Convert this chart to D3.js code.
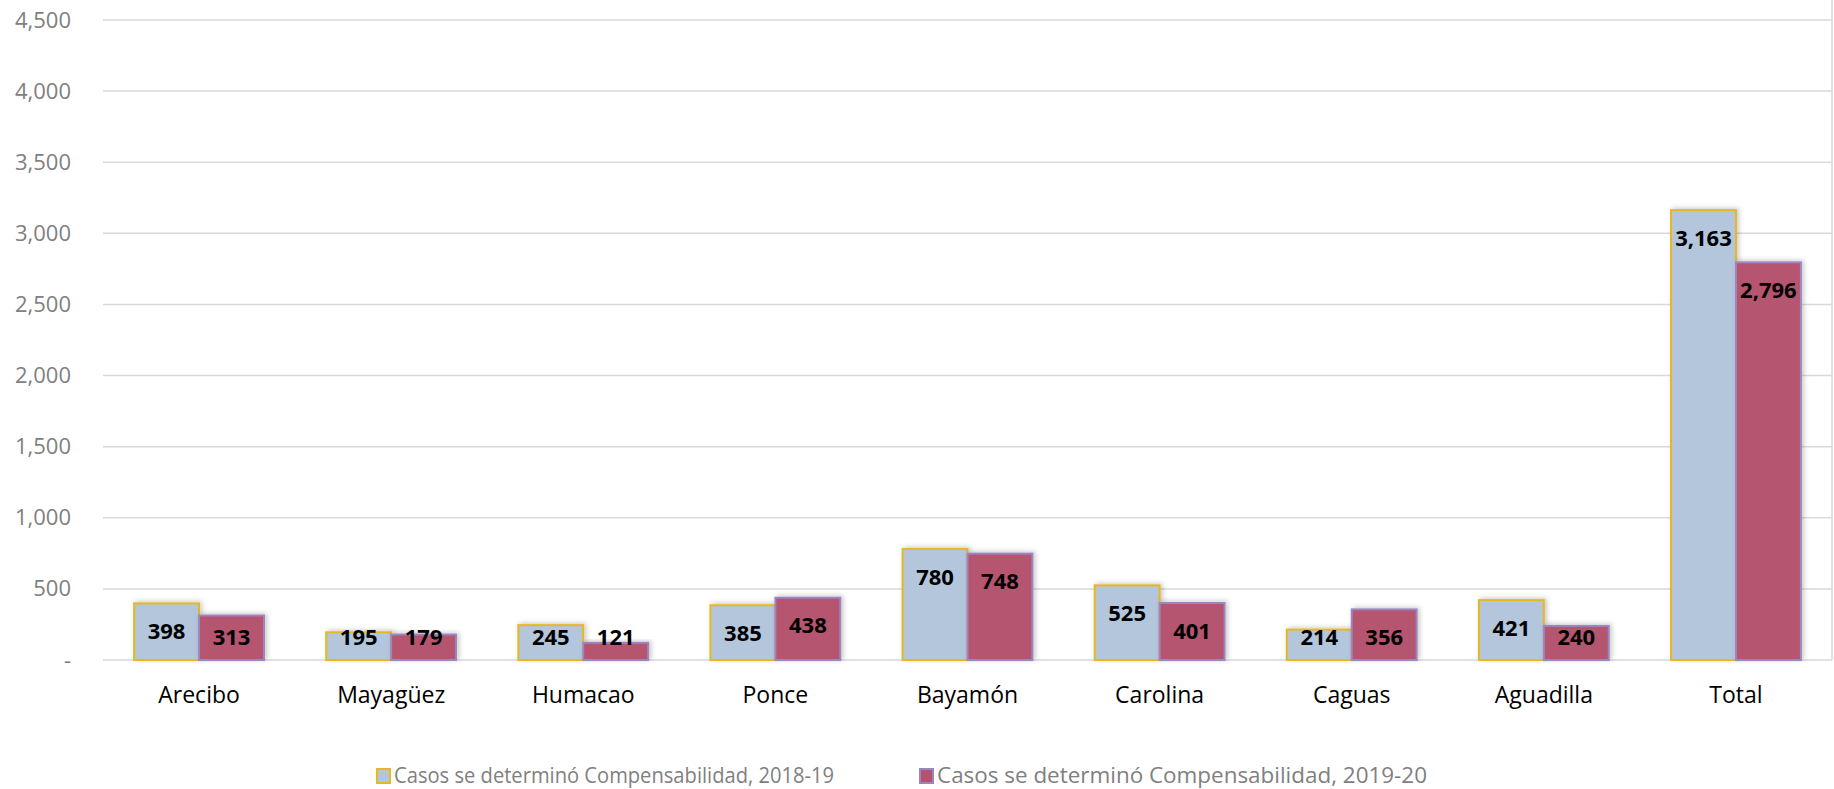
<!DOCTYPE html>
<html>
<head>
    <meta charset="UTF-8">
    <title>Casos se determinó Compensabilidad</title>
    <style>
        body { margin: 0; background: #fff; }
        text { font-family: "Open Sans", "Noto Sans", sans-serif; }
    </style>
</head>
<body>
    <script src="https://d3js.org/d3.v7.min.js"></script>
    <script>
        // datos
        var categories = ["Arecibo", "Mayagüez", "Humacao", "Ponce", "Bayamón", "Carolina", "Caguas", "Aguadilla", "Total"];
        var values1819 = [398, 195, 245, 385, 780, 525, 214, 421, 3163];
        var values1920 = [313, 179, 121, 438, 748, 401, 356, 240, 2796];
        var seriesNames = ["Casos se determinó Compensabilidad, 2018-19", "Casos se determinó Compensabilidad, 2019-20"];
        var yTicks = [0, 500, 1000, 1500, 2000, 2500, 3000, 3500, 4000, 4500];

        var width = 1834, height = 789;
        // ojo: "top" es window.top, no se puede usar
        var plotLeft = 103, plotRight = 1832, plotTop = 20, plotBottom = 660;

        var svg = d3.select("body").append("svg")
            .attr("width", width)
            .attr("height", height);

        // sombra de las barras
        var filter = svg.append("defs").append("filter")
            .attr("id", "shadow")
            .attr("x", "-20%").attr("y", "-20%")
            .attr("width", "140%").attr("height", "140%");
        filter.append("feDropShadow")
            .attr("dx", 2).attr("dy", -1)
            .attr("stdDeviation", 2.5)
            .attr("flood-color", "#000")
            .attr("flood-opacity", 0.22);

        var x = d3.scaleBand()
            .domain(categories)
            .range([plotLeft, plotRight])
            .paddingInner(0.324)
            .paddingOuter(0.162);

        var sub = d3.scaleBand()
            .domain([0, 1])
            .range([0, x.bandwidth()]);

        var y = d3.scaleLinear()
            .domain([0, 4500])
            .range([plotBottom, plotTop]);

        // rejilla
        svg.append("g")
            .selectAll("line")
            .data(yTicks)
            .enter().append("line")
            .attr("x1", plotLeft)
            .attr("x2", plotRight)
            .attr("y1", function(d){ return y(d); })
            .attr("y2", function(d){ return y(d); })
            .attr("stroke", "#d9d9d9")
            .attr("stroke-width", 1.5);

        // borde derecho
        svg.append("line")
            .attr("x1", plotRight).attr("x2", plotRight)
            .attr("y1", 0).attr("y2", plotBottom)
            .attr("stroke", "#d9d9d9")
            .attr("stroke-width", 1.5);

        // eje y
        var yAxis = d3.axisLeft(y)
            .tickValues(yTicks)
            .tickSize(0)
            .tickPadding(0)
            .tickFormat(function(d){ return d === 0 ? "-" : d3.format(",")(d); });
        var gy = svg.append("g")
            .attr("transform", "translate(71,0)")
            .call(yAxis);
        gy.select(".domain").remove();
        gy.selectAll("text")
            .attr("fill", "#808080")
            .style("font-size", "22px");

        // eje x
        var xAxis = d3.axisBottom(x).tickSize(0).tickPadding(0);
        var gx = svg.append("g")
            .attr("transform", "translate(0," + (plotBottom + 27) + ")")
            .call(xAxis);
        gx.select(".domain").remove();
        gx.selectAll("text")
            .attr("fill", "#000")
            .style("font-size", "23px");

        var series = [
            { name: seriesNames[0], values: values1819, fill: "#b3c6dc", stroke: "#e6b823", legendX: 377, legendW: 440 },
            { name: seriesNames[1], values: values1920, fill: "#b55470", stroke: "#9c86c2", legendX: 920, legendW: 490 }
        ];

        series.forEach(function(s, si){
            var g = svg.append("g");
            g.selectAll("rect")
                .data(s.values)
                .enter().append("rect")
                .attr("x", function(d, i){ return x(categories[i]) + sub(si); })
                .attr("y", function(d){ return y(d); })
                .attr("width", sub.bandwidth())
                .attr("height", function(d){ return plotBottom - y(d); })
                .attr("fill", s.fill)
                .attr("stroke", s.stroke)
                .attr("stroke-width", 2)
                .attr("filter", "url(#shadow)");
        });

        // etiquetas de datos
        series.forEach(function(s, si){
            svg.append("g")
                .selectAll("text")
                .data(s.values)
                .enter().append("text")
                .attr("x", function(d, i){ return x(categories[i]) + sub(si) + sub.bandwidth() / 2; })
                .attr("y", function(d){ return Math.min(y(d) + 28, plotBottom - 23); })
                .attr("dy", "0.35em")
                .attr("text-anchor", "middle")
                .attr("fill", "#000")
                .style("font-size", "22px")
                .style("font-weight", "bold")
                .text(function(d){ return d3.format(",")(d); });
        });

        // leyenda
        series.forEach(function(s){
            var g = svg.append("g")
                .attr("transform", "translate(" + s.legendX + ",776)");
            g.append("rect")
                .attr("x", 0).attr("y", -7)
                .attr("width", 13).attr("height", 14)
                .attr("fill", s.fill)
                .attr("stroke", s.stroke)
                .attr("stroke-width", 2);
            g.append("text")
                .attr("x", 17)
                .attr("dy", "0.35em")
                .attr("fill", "#808080")
                .attr("textLength", s.legendW)
                .attr("lengthAdjust", "spacingAndGlyphs")
                .style("font-size", "21px")
                .text(s.name);
        });
    </script>
</body>
</html>
